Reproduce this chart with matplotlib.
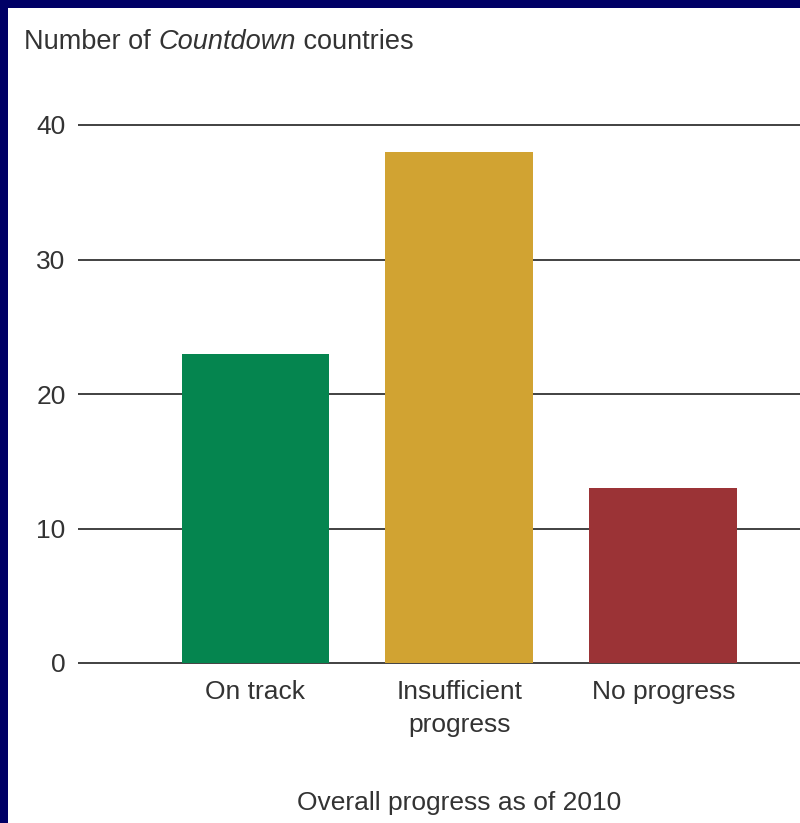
import matplotlib
matplotlib.use("Agg")
import matplotlib.pyplot as plt
from matplotlib.patches import Rectangle

categories = ["On track", "Insufficient\nprogress", "No progress"]
counts = [23, 38, 13]
colors = ["#05854f", "#d1a332", "#9b3336"]
yticks = [0, 10, 20, 30, 40]

plt.rcParams["font.family"] = ["Liberation Sans", "DejaVu Sans"]
text_color = "#333333"
fs = 19

fig = plt.figure(figsize=(8, 8.23), dpi=100)
fig.patch.set_facecolor("#000066")
# white panel inside the navy frame (frame only on top and left)
fig.patches.append(Rectangle((8 / 800, 0), 1, 1 - 8 / 823, transform=fig.transFigure,
                             facecolor="white", edgecolor="none", zorder=-1))

# small margin above/below so the 0 and 40 grid lines are not clipped
pad = 0.15
ppu = (663 - 125) / 40
ax = fig.add_axes([78 / 800, (160 - pad * ppu) / 823, 1 - 78 / 800, (538 + 2 * pad * ppu) / 823])
ax.set_facecolor("none")

x = list(range(len(categories)))
ax.bar(x, counts, width=0.725, color=colors, zorder=2)

ax.set_ylim(-pad, 40 + pad)
ax.set_xlim(-0.87, 2.67)
ax.set_yticks(yticks)
ax.set_xticks(x)
ax.set_xticklabels(categories, linespacing=1.45)
ax.grid(axis="y", color="#333333", linewidth=1.3, zorder=1)
for s in ax.spines.values():
    s.set_visible(False)
ax.tick_params(axis="both", length=0, labelsize=fs, colors=text_color)
ax.tick_params(axis="y", pad=9)
ax.tick_params(axis="x", pad=11)

# y-axis title with italic word
tfs = 19.5
t1 = fig.text(24 / 800, 1 - 42 / 823, "Number of ", fontsize=tfs, color=text_color, va="center")
t2 = ax.annotate("Countdown", xy=(1, 0), xycoords=t1, fontsize=tfs, style="italic",
                 color=text_color, va="bottom", ha="left",
                 annotation_clip=False)
ax.annotate(" countries", xy=(1, 0), xycoords=t2, fontsize=tfs,
            color=text_color, va="bottom", ha="left", annotation_clip=False)

ax.text(1, -0.255, "Overall progress as of 2010", transform=ax.get_xaxis_transform(),
        ha="center", va="center", fontsize=fs, color=text_color)

fig.savefig("out.png", dpi=100, facecolor=fig.get_facecolor())
